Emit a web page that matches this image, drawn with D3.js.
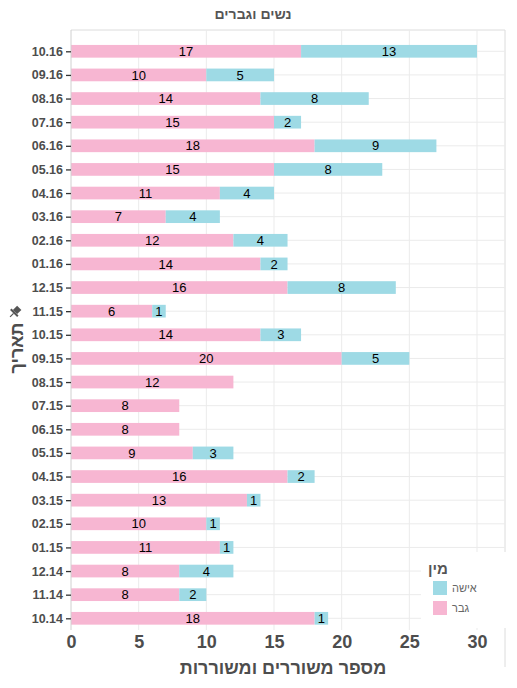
<!DOCTYPE html>
<html><head><meta charset="utf-8">
<script src="https://cdn.jsdelivr.net/npm/d3@7/dist/d3.min.js"></script>
<style>body{margin:0;background:#fff}svg{display:block;font-family:"Liberation Sans",Arial,sans-serif}</style>
</head><body><svg id="c" width="517" height="688"></svg>
<script>
const dates = ["10.16","09.16","08.16","07.16","06.16","05.16","04.16","03.16","02.16","01.16","12.15","11.15","10.15","09.15","08.15","07.15","06.15","05.15","04.15","03.15","02.15","01.15","12.14","11.14","10.14"];
const men   = [17,10,14,15,18,15,11,7,12,14,16,6,14,20,12,8,8,9,16,13,10,11,8,8,18];
const women = [13,5,8,2,9,8,4,4,4,2,8,1,3,5,0,0,0,3,2,1,1,1,4,2,1];
const xTicks = [0,5,10,15,20,25,30];
const seriesNames = ["גבר","אישה"];
const colors = ["#f7b6d2","#9edae5"];
const title = "נשים וגברים";
const xTitle = "מספר משוררים ומשוררות";
const yTitle = "תאריך";
const legendTitle = "מין";

const svg = d3.select("#c");
const L = 71, R = 505, T = 30, B = 630;
const x = d3.scaleLinear().domain([0,30]).range([L, 477]);
const y = d3.scalePoint().domain(dates).range([51.3, 618.3]);
const bh = 12.7;

// panel border
svg.append("line").attr("x1",L).attr("x2",R).attr("y1",T).attr("y2",T).attr("stroke","#dcdcdc");
svg.append("line").attr("x1",R).attr("x2",R).attr("y1",T).attr("y2",667).attr("stroke","#dcdcdc");

// gridlines
svg.append("g").selectAll("line").data(xTicks.slice(1)).join("line")
  .attr("x1",d=>x(d)).attr("x2",d=>x(d)).attr("y1",T).attr("y2",B)
  .attr("stroke","#ebebeb");
svg.append("g").selectAll("line").data(dates).join("line")
  .attr("x1",L).attr("x2",R).attr("y1",d=>y(d)).attr("y2",d=>y(d))
  .attr("stroke","#ebebeb");

// bars
const rows = dates.map((d,i)=>({d, m:men[i], w:women[i]}));
const g = svg.append("g");
g.selectAll("rect.m").data(rows).join("rect").attr("class","m")
  .attr("x",x(0)).attr("y",r=>y(r.d)-bh/2).attr("width",r=>x(r.m)-x(0)).attr("height",bh)
  .attr("fill",colors[0]);
g.selectAll("rect.w").data(rows.filter(r=>r.w>0)).join("rect").attr("class","w")
  .attr("x",r=>x(r.m)).attr("y",r=>y(r.d)-bh/2).attr("width",r=>x(r.m+r.w)-x(r.m)).attr("height",bh)
  .attr("fill",colors[1]);
g.selectAll("text.m").data(rows).join("text").attr("class","m")
  .attr("x",r=>x(r.m/2)).attr("y",r=>y(r.d)).attr("dy","0.36em")
  .attr("text-anchor","middle").attr("font-size",13).attr("fill","#000").text(r=>r.m);
g.selectAll("text.w").data(rows.filter(r=>r.w>0)).join("text").attr("class","w")
  .attr("x",r=>x(r.m+r.w/2)).attr("y",r=>y(r.d)).attr("dy","0.36em")
  .attr("text-anchor","middle").attr("font-size",13).attr("fill","#000").text(r=>r.w);

// axis line left
svg.append("line").attr("x1",L).attr("x2",L).attr("y1",T).attr("y2",B).attr("stroke","#d0d0d0");

// y axis
const ya = svg.append("g").attr("transform",`translate(${L},0)`)
  .call(d3.axisLeft(y).tickSize(5).tickPadding(3));
ya.select(".domain").remove();
ya.selectAll(".tick line").attr("stroke","#333").attr("stroke-width",1.3);
ya.selectAll(".tick text").attr("font-size",12.5).attr("font-weight","bold").attr("fill","#4d4d4d")
  .attr("font-family","Liberation Sans, Arial, sans-serif");

// x axis
const xa = svg.append("g").attr("transform",`translate(0,${B})`)
  .call(d3.axisBottom(x).tickValues(xTicks).tickSize(0).tickPadding(4));
xa.select(".domain").remove();
xa.selectAll(".tick text").attr("font-size",18).attr("font-weight","bold").attr("fill","#4d4d4d")
  .attr("font-family","Liberation Sans, Arial, sans-serif").attr("dy","0.75em");

// titles
svg.append("text").attr("x",253).attr("y",19).attr("text-anchor","middle")
  .attr("font-size",14).attr("font-weight","bold").attr("fill","#555").text(title);
svg.append("text").attr("x",283).attr("y",674).attr("text-anchor","middle")
  .attr("font-size",18).attr("font-weight","bold").attr("fill","#4d4d4d").text(xTitle);
svg.append("text").attr("transform","translate(23,348) rotate(-90)").attr("text-anchor","middle")
  .attr("font-size",18).attr("font-weight","bold").attr("fill","#4d4d4d").text(yTitle);
// pin icon
const pin = svg.append("g").attr("transform","translate(15,312) rotate(45)").attr("fill","#555");
pin.append("rect").attr("x",-3).attr("y",-6).attr("width",6).attr("height",6);
pin.append("rect").attr("x",-5).attr("y",0).attr("width",10).attr("height",2);
pin.append("line").attr("x1",0).attr("x2",0).attr("y1",2).attr("y2",7).attr("stroke","#555").attr("stroke-width",1.2);

// legend
const lg = svg.append("g");
lg.append("rect").attr("x",421).attr("y",552).attr("width",86).attr("height",76).attr("fill","#fff");
lg.append("text").attr("x",438).attr("y",574).attr("text-anchor","middle")
  .attr("font-size",15).attr("font-weight","bold").attr("fill","#555").text(legendTitle);
const items = [{n:seriesNames[1],c:colors[1]},{n:seriesNames[0],c:colors[0]}];
lg.selectAll("rect.s").data(items).join("rect").attr("class","s")
  .attr("x",433).attr("y",(d,i)=>581+i*20).attr("width",14).attr("height",14).attr("fill",d=>d.c);
lg.selectAll("text.s").data(items).join("text").attr("class","s")
  .attr("x",452).attr("y",(d,i)=>588+i*20).attr("dy","0.35em")
  .attr("font-size",11).attr("fill","#666").attr("direction","ltr").text(d=>d.n);
</script></body></html>
